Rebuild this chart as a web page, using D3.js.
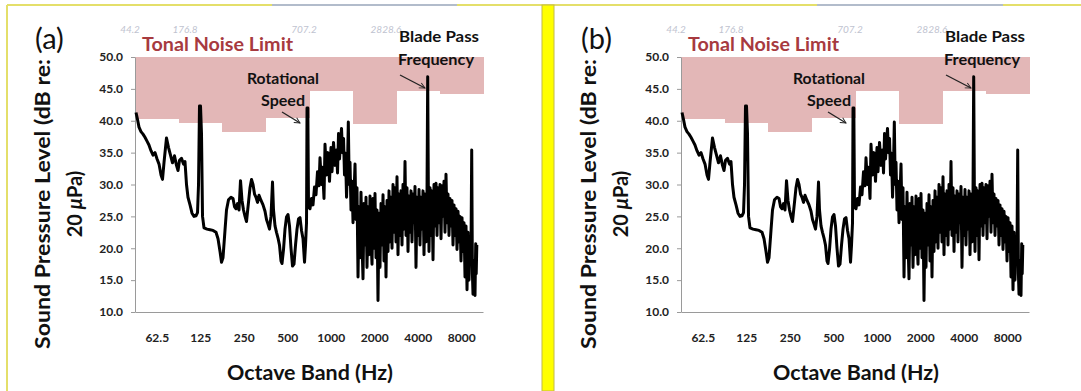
<!DOCTYPE html>
<html><head><meta charset="utf-8">
<script src="https://cdn.jsdelivr.net/npm/d3@7"></script>
<style>
html,body{margin:0;padding:0;background:#fff;}
svg{display:block;}
text{font-family:Lato,"Open Sans",sans-serif;}
</style></head><body>
<svg id="chart" width="1081" height="391"></svg>
<script>
// ---------- data ----------
const panelLabels = ["(a)", "(b)"];
const bandLabels = ["62.5","125","250","500","1000","2000","4000","8000"];
const bandCenters = [62.5,125,250,500,1000,2000,4000,8000];
const bandEdges = [44.19,88.39,176.78,353.55,707.11,1414.21,2828.43,5656.85,11313.71];
const toneLimit = [40.2,39.6,38.3,40.5,44.7,39.5,44.6,44.2];
const limitTop = 50;
const yTicks = [10,15,20,25,30,35,40,45,50];
const ghostLabels = ["44.2","176.8","707.2","2828.6"];

const freqHz = [
 44.9,46.0,47.1,48.6,50.2,51.8,53.5,55.2,57.0,58.9,
 60.8,62.8,64.8,66.9,68.5,70.2,73.0,75.4,77.8,80.3,
 82.9,85.6,87.7,89.8,92.7,95.7,98.0,100.4,102.8,106.2,
 109.6,113.2,116.8,119.7,121.6,123.5,125.5,127.5,129.6,132.7,
 139.2,146.0,153.2,160.7,165.9,171.3,175.4,179.6,185.4,189.9,
 196.1,204.0,210.7,215.8,221.0,226.3,231.8,237.4,243.1,249.0,
 255.1,261.2,267.6,276.2,282.9,289.7,296.8,303.9,311.3,318.8,
 329.2,339.8,350.8,359.2,367.9,376.8,385.9,395.3,401.6,411.4,
 421.3,431.5,441.9,452.6,459.9,471.0,482.4,494.1,506.0,518.3,
 530.8,543.7,556.8,570.3,584.1,598.2,612.7,627.6,642.8,658.3,
 668.9,679.6,685.2,694.1,701.6,718.5,735.8,753.6,771.8,790.5,
 809.6,829.3,842.6,863.0,876.8,898.1,912.5,934.6,957.2,980.3,
 1004,1020,1045,1070,1096,1114,1132,1150,1168,1187,
 1206,1226,1245,1265,1286,1306,1323,1342,1359,1381,
 1403,
 1426,1449,1472,1495,1519,1544,1569,1594,1619,1645,
 1672,1699,1726,1754,1782,1811,1840,1869,1899,1930,
 1961,1992,2024,2057,2090,2123,2158,2192,2227,2263,
 2300,2336,2374,2412,2451,2490,2531,2571,2613,2654,
 2697,2741,2784,2828,2874,2920,2967,3014,3063,3112,
 3162,3213,3265,3317,3370,3425,3480,3535,3592,3650,
 3709,3768,3829,3890,3953,4016,4081,4146,4213,4281,
 4349,4419,4490,4562,4636,4687,4740,4786,4863,4941,
 5020,5101,5183,5267,5351,5437,5524,5613,5702,5794,
 5887,5982,6077,6175,6274,6375,6478,6582,6688,6795,
 6904,7015,7128,7242,7359,7477,7597,7719,7843,7969,
 8097,8227,8359,8494,8630,8769,8910,9053,9199,9346,
 9451,9557,9649,9804,9962,10074,10154,10252
];
const splDb = [
 41.3,40.2,39.0,38.3,37.9,37.4,36.8,36.2,35.3,34.6,
 35.0,34.0,33.2,31.5,30.8,33.5,37.3,35.8,34.6,33.4,
 34.5,33.0,32.2,33.8,34.1,33.2,33.6,30.0,28.0,26.8,
 25.5,25.0,25.1,25.6,30.0,42.3,42.3,38.0,25.0,23.2,
 23.0,22.9,22.8,22.5,21.5,19.5,17.8,18.5,22.8,26.0,
 27.6,28.0,27.8,26.5,26.2,27.0,26.0,30.6,27.5,26.0,
 25.0,24.2,26.5,29.5,30.8,30.0,28.5,28.0,27.2,28.3,
 27.5,26.8,25.8,24.5,23.8,23.0,25.0,30.4,26.0,23.5,
 22.5,21.6,20.5,18.0,17.6,19.8,23.0,24.9,25.3,23.5,
 20.0,17.2,17.5,20.5,23.0,24.6,24.8,22.8,21.5,17.8,
 20.5,24.0,42.0,42.0,26.5,26.2,27.8,26.8,29.6,28.4,
 32.0,29.8,34.2,30.0,32.7,27.8,36.3,31.5,35.0,30.5,
 35.8,32.0,36.6,33.0,35.4,31.8,38.0,34.0,36.5,38.8,
 35.0,37.2,31.5,34.9,28.0,33.0,39.8,30.0,33.5,26.0,
 30.5,
 24.0,28.5,33.2,24.5,29.5,15.5,26.5,18.5,28.8,21.0,
 15.2,27.0,20.5,28.0,17.0,26.5,19.0,28.2,21.5,17.5,
 27.8,20.0,28.6,18.5,26.0,11.8,25.5,17.0,27.0,20.5,
 28.4,18.0,26.5,15.5,27.5,19.5,29.0,21.0,28.0,20.0,
 30.0,22.5,29.5,21.0,31.2,19.0,28.5,22.0,29.0,20.5,
 30.0,23.0,33.6,22.0,29.5,19.5,28.2,22.5,29.0,21.0,
 28.5,24.0,29.7,17.0,28.0,22.0,29.2,20.5,28.0,23.0,
 29.0,19.0,28.5,21.0,28.8,46.9,28.0,19.5,29.5,22.0,
 29.0,18.2,30.0,23.5,30.2,22.0,29.5,24.0,30.0,21.5,
 29.8,25.0,30.5,22.5,31.6,24.0,28.5,22.0,27.8,23.5,
 27.5,20.5,26.8,22.0,26.2,19.8,25.8,21.0,25.0,18.0,
 24.8,19.5,24.0,15.5,23.5,13.5,22.5,15.0,21.5,20.0,
 35.4,16.0,12.8,18.0,12.6,20.7,16.0,20.5
];

// ---------- drawing ----------
const svg = d3.select("#chart");
const defs = svg.append("defs");
defs.append("marker").attr("id","arr").attr("viewBox","0 0 10 10")
  .attr("refX",9).attr("refY",5).attr("markerWidth",7).attr("markerHeight",7)
  .attr("orient","auto").attr("markerUnits","userSpaceOnUse")
  .append("path").attr("d","M1,1 L9,5 L1,9").attr("fill","none").attr("stroke","#222").attr("stroke-width",1.3);

svg.append("rect").attr("width",1081).attr("height",391).attr("fill","#fff");

const points = freqHz.map((f,i)=>({f:f, v:splDb[i]}));
const panelOffsets = [0, 546];

function drawPanel(g, lab){
  const x = d3.scaleLog().domain([bandEdges[0], bandEdges[bandEdges.length-1]]).range([135,483]);
  const y = d3.scaleLinear().domain([10,50]).range([312,57]);

  g.append("g").selectAll("rect").data(toneLimit).join("rect")
    .attr("x",(d,i)=>x(bandEdges[i]))
    .attr("width",(d,i)=>x(bandEdges[i+1])-x(bandEdges[i])+0.5)
    .attr("y",y(limitTop))
    .attr("height",d=>y(d)-y(limitTop))
    .attr("fill","#e3b7b7")
    .attr("shape-rendering","crispEdges");

  const ghostX = [130,185,304,386];
  g.selectAll("text.ghost").data(ghostLabels).join("text")
    .attr("class","ghost").attr("x",(d,i)=>ghostX[i]).attr("y",33)
    .attr("text-anchor","middle").attr("font-size",10).attr("font-style","italic")
    .attr("fill","#c0c3d0").text(d=>d);

  const ya = g.append("g").attr("transform","translate(135,0)")
    .call(d3.axisLeft(y).tickValues(yTicks).tickFormat(d3.format(".1f")).tickSize(4).tickSizeOuter(0).tickPadding(8));
  ya.select(".domain").attr("stroke","#9a9a9a");
  ya.selectAll(".tick line").attr("stroke","#9a9a9a");
  ya.selectAll(".tick text").attr("font-family","Lato").attr("font-weight","bold").attr("font-size",12).attr("fill","#222");

  const xa = g.append("g").attr("transform","translate(0,312)")
    .call(d3.axisBottom(x).tickValues(bandCenters).tickFormat((d,i)=>bandLabels[i]).tickSize(0).tickSizeOuter(0).tickPadding(21));
  xa.select(".domain").attr("stroke","#9a9a9a");
  xa.selectAll(".tick text").attr("font-family","Lato").attr("font-weight","bold").attr("font-size",12).attr("fill","#222");

  g.append("path").datum(points)
    .attr("d", d3.line().x(d=>x(d.f)).y(d=>y(d.v)))
    .attr("fill","none").attr("stroke","#000").attr("stroke-width",3)
    .attr("stroke-linejoin","round");

  g.append("text").attr("x",142).attr("y",51).attr("font-weight","bold").attr("font-size",18)
    .attr("fill","#a73a3f").attr("textLength",151).attr("lengthAdjust","spacingAndGlyphs").text("Tonal Noise Limit");

  g.append("text").attr("x",35).attr("y",49).attr("font-family","Liberation Sans, Arial, sans-serif")
    .attr("font-size",29).attr("fill","#111").text(lab);

  g.append("text").attr("transform","translate(50,204) rotate(-90)").attr("text-anchor","middle")
    .attr("font-weight","bold").attr("font-size",20).attr("fill","#111")
    .attr("textLength",290).attr("lengthAdjust","spacingAndGlyphs").text("Sound Pressure Level (dB re:");
  const t2 = g.append("text").attr("transform","translate(82,204) rotate(-90)").attr("text-anchor","middle")
    .attr("font-weight","bold").attr("font-size",20).attr("fill","#111");
  t2.append("tspan").text("20 ");
  t2.append("tspan").attr("font-style","italic").text("μ");
  t2.append("tspan").text("Pa)");

  g.append("text").attr("x",310).attr("y",380).attr("text-anchor","middle")
    .attr("font-weight","bold").attr("font-size",20).attr("fill","#111")
    .attr("textLength",166).attr("lengthAdjust","spacingAndGlyphs").text("Octave Band (Hz)");

  const ann = [
    {t:"Blade Pass", x:439, y:42, w:80},
    {t:"Frequency", x:436, y:65, w:76},
    {t:"Rotational", x:283, y:84, w:72},
    {t:"Speed", x:283, y:106, w:44}
  ];
  g.selectAll("text.ann").data(ann).join("text").attr("class","ann")
    .attr("x",d=>d.x - d.w/2).attr("y",d=>d.y)
    .attr("textLength",d=>d.w).attr("lengthAdjust","spacingAndGlyphs")
    .attr("font-weight","bold").attr("font-size",16).attr("fill","#111").text(d=>d.t);

  const arrows = [
    {x1:400,y1:75,x2:425,y2:88},
    {x1:282,y1:112,x2:300,y2:123}
  ];
  g.selectAll("line.arr").data(arrows).join("line").attr("class","arr")
    .attr("x1",d=>d.x1).attr("y1",d=>d.y1).attr("x2",d=>d.x2).attr("y2",d=>d.y2)
    .attr("stroke","#222").attr("stroke-width",1.3).attr("marker-end","url(#arr)");
}

panelLabels.forEach((lab,i)=>{
  drawPanel(svg.append("g").attr("transform",`translate(${panelOffsets[i]},0)`), lab);
});

svg.append("line").attr("x1",7).attr("x2",1081).attr("y1",5).attr("y2",5).attr("stroke","#e4df6a").attr("stroke-width",2);
[[272,457],[817,1003]].forEach(s=>{
  svg.append("line").attr("x1",s[0]).attr("x2",s[1]).attr("y1",5).attr("y2",5).attr("stroke","#b2bccb").attr("stroke-width",2);
});
svg.append("line").attr("x1",7).attr("x2",7).attr("y1",5).attr("y2",391).attr("stroke","#e4df6a").attr("stroke-width",2);
svg.append("rect").attr("x",542).attr("y",5).attr("width",12).attr("height",386)
  .attr("fill","#ffff00").attr("stroke","#c2ba48").attr("stroke-width",1);
</script>
</body></html>
